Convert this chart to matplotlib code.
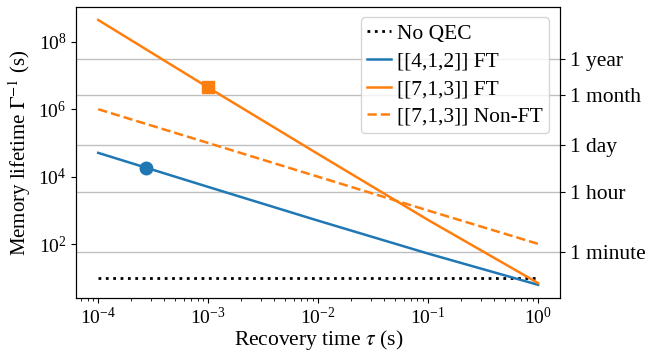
import numpy as np
import matplotlib
matplotlib.use("Agg")
import matplotlib.pyplot as plt
from matplotlib.ticker import LogLocator, NullLocator, FixedLocator, NullFormatter

# recovery time (s) and memory lifetime (s)
tau = [1e-4, 1e-3, 1e-2, 1e-1, 1e0]
no_qec = [10, 10, 10, 10, 10]
life_412_ft = [5.1e4, 5.0e3, 5.0e2, 53, 6.3]
life_713_ft = [4.4e8, 4.4e6, 4.7e4, 525, 7.1]
life_713_nonft = [1.0e6, 1.0e5, 1.0e4, 1.0e3, 1.03e2]

# highlighted operating points
tau_412_pt, life_412_pt = 2.7e-4, 1.85e4
tau_713_pt, life_713_pt = 1e-3, 4.4e6

# right-hand time scale
time_labels = ["1 minute", "1 hour", "1 day", "1 month", "1 year"]
time_values = [60, 3600, 86400, 2.63e6, 3.15e7]

plt.rcParams['font.family'] = ['Liberation Serif', 'DejaVu Serif']
plt.rcParams['mathtext.fontset'] = 'stix'
plt.rcParams['font.size'] = 14

fig, ax = plt.subplots(figsize=(6.46, 3.54), dpi=100)
fig.subplots_adjust(left=0.118, right=0.867, top=0.981, bottom=0.158)

for v in time_values:
    ax.axhline(v, color='#bfbfbf', lw=1.0, zorder=0)

ax.plot(tau, no_qec, ':', color='black', lw=2, label='No QEC')
ax.plot(tau, life_412_ft, '-', color='C0', lw=1.8, label='[[4,1,2]] FT')
ax.plot(tau, life_713_ft, '-', color='C1', lw=1.8, label='[[7,1,3]] FT')
ax.plot(tau, life_713_nonft, '--', color='C1', lw=1.8, label='[[7,1,3]] Non-FT')
ax.plot([tau_412_pt], [life_412_pt], 'o', color='C0', ms=9)
ax.plot([tau_713_pt], [life_713_pt], 's', color='C1', ms=9)

ax.set_xscale('log')
ax.set_yscale('log')
ax.set_yticks([1e2, 1e4, 1e6, 1e8])
ax.yaxis.set_minor_locator(NullLocator())
ax.xaxis.set_major_locator(LogLocator(base=10))
ax.xaxis.set_minor_locator(LogLocator(base=10, subs=np.arange(2, 10)))
ax.xaxis.set_minor_formatter(NullFormatter())
ax.tick_params(labelsize=14)
ax.tick_params(axis='x', pad=3)
ax.set_xlabel(r'Recovery time $\tau$ (s)', fontsize=15.5, labelpad=0)
ax.set_ylabel(r'Memory lifetime $\Gamma^{-1}$ (s)', fontsize=15, labelpad=4)
ax.legend(loc='upper right', fontsize=15.5, handlelength=1.1,
          borderpad=0.3, labelspacing=0.35, handletextpad=0.3,
          borderaxespad=0.5)

ax2 = ax.twinx()
ax2.set_yscale('log')
ax2.set_ylim(ax.get_ylim())
ax2.yaxis.set_major_locator(FixedLocator(time_values))
ax2.yaxis.set_minor_locator(NullLocator())
ax2.set_yticklabels(time_labels, fontsize=15.5)

fig.savefig('out.png', dpi=100)
